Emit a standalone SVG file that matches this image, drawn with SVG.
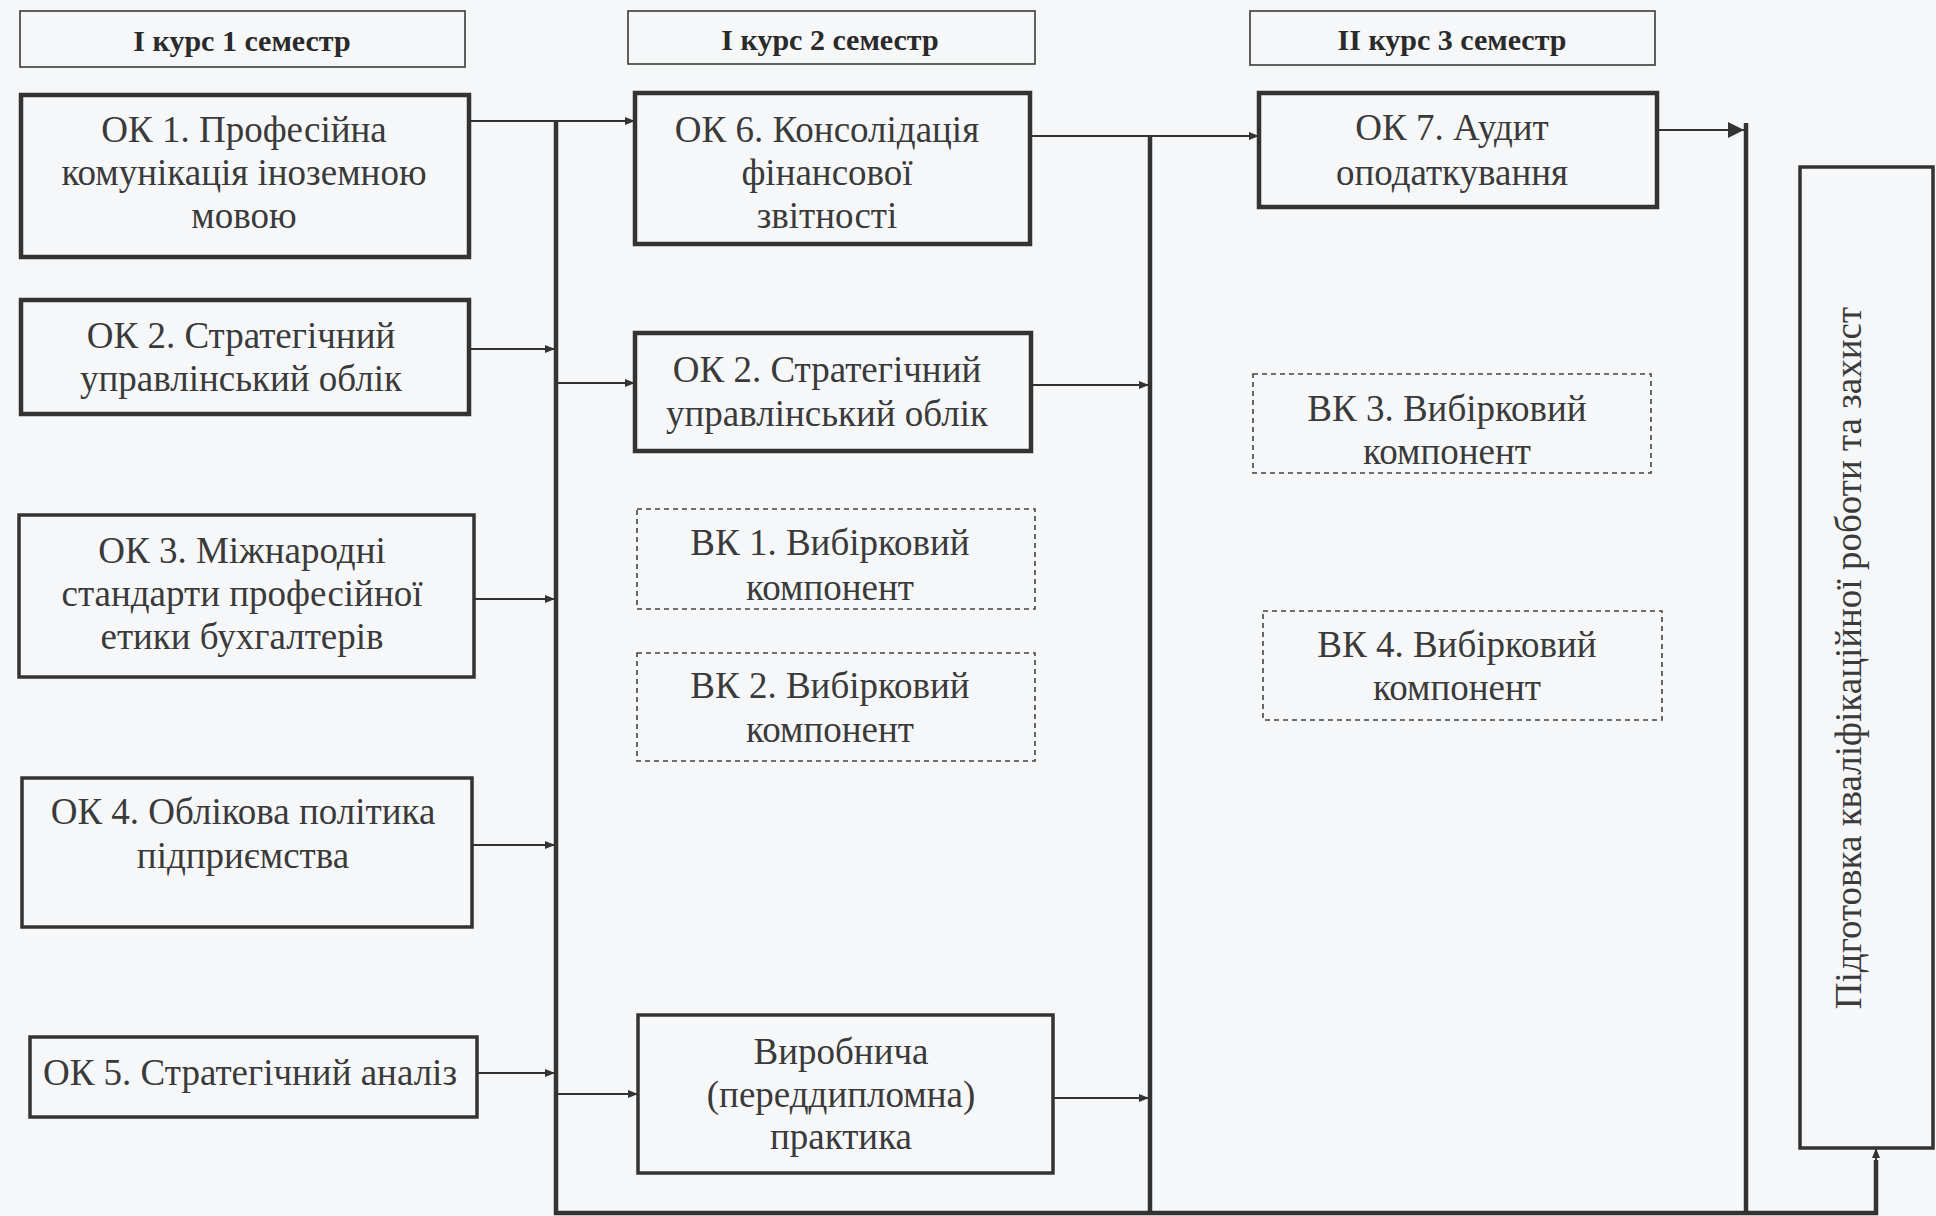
<svg xmlns="http://www.w3.org/2000/svg" width="1936" height="1216" viewBox="0 0 1936 1216">
<defs>
<style>
.bg{fill:#f6f7f9}
.hdr{fill:none;stroke:#3a3a3a;stroke-width:1.6}
.box{fill:none;stroke:#333;stroke-width:4.5}
.box2{fill:none;stroke:#333;stroke-width:3.5}
.dash{fill:none;stroke:#444;stroke-width:1.6;stroke-dasharray:5 4}
.ht{font-family:"Liberation Serif","Times New Roman",serif;font-weight:bold;font-size:30px;fill:#2a2a2a;text-anchor:middle}
.t{font-family:"Liberation Serif","Times New Roman",serif;font-size:37px;fill:#3a3a3a;text-anchor:middle}
.c{fill:none;stroke:#333;stroke-width:2}
.bus{fill:none;stroke:#333;stroke-width:4.5}
</style>
<marker id="ar" viewBox="0 0 10 10" refX="10" refY="5" markerWidth="10" markerHeight="10" markerUnits="userSpaceOnUse" orient="auto">
<path d="M0,1 L10,5 L0,9 Z" fill="#333"/>
</marker>
<marker id="ar2" viewBox="0 0 10 10" refX="10" refY="5" markerWidth="16" markerHeight="16" markerUnits="userSpaceOnUse" orient="auto">
<path d="M0,0 L10,5 L0,10 Z" fill="#333"/>
</marker>
</defs>
<rect class="bg" x="0" y="0" width="1936" height="1216"/>

<g id="connectors">
<path class="bus" d="M556,121 V1213 H1876 V1160"/>
<path class="bus" d="M1150,136 V1213"/>
<path class="bus" d="M1746,123 V1213"/>
<line class="c" x1="469" y1="121" x2="635" y2="121" marker-end="url(#ar)"/>
<line class="c" x1="469" y1="349" x2="555" y2="349" marker-end="url(#ar)"/>
<line class="c" x1="556" y1="383" x2="635" y2="383" marker-end="url(#ar)"/>
<line class="c" x1="474" y1="599" x2="555" y2="599" marker-end="url(#ar)"/>
<line class="c" x1="472" y1="845" x2="555" y2="845" marker-end="url(#ar)"/>
<line class="c" x1="477" y1="1073" x2="555" y2="1073" marker-end="url(#ar)"/>
<line class="c" x1="556" y1="1094" x2="638" y2="1094" marker-end="url(#ar)"/>
<line class="c" x1="1030" y1="136" x2="1259" y2="136" marker-end="url(#ar)"/>
<line class="c" x1="1031" y1="385" x2="1149" y2="385" marker-end="url(#ar)"/>
<line class="c" x1="1053" y1="1098" x2="1149" y2="1098" marker-end="url(#ar)"/>
<line class="c" x1="1657" y1="130" x2="1744" y2="130" marker-end="url(#ar2)"/>
<line class="c" x1="1876" y1="1170" x2="1876" y2="1148" marker-end="url(#ar)"/>
</g>

<g id="h1"><rect class="hdr" x="20" y="11" width="445" height="56"/><text class="ht" x="242" y="51">І курс 1 семестр</text></g>
<g id="h2"><rect class="hdr" x="628" y="11" width="407" height="53"/><text class="ht" x="830" y="50">І курс 2 семестр</text></g>
<g id="h3"><rect class="hdr" x="1250" y="11" width="405" height="54"/><text class="ht" x="1452" y="50">ІІ курс 3 семестр</text></g>

<g id="ok1"><rect class="box" x="21" y="95" width="448" height="162"/>
<text class="t" x="244" y="142">ОК 1. Професійна</text>
<text class="t" x="244" y="185">комунікація іноземною</text>
<text class="t" x="244" y="228">мовою</text></g>

<g id="ok2"><rect class="box" x="21" y="300" width="448" height="114"/>
<text class="t" x="241" y="348">ОК 2. Стратегічний</text>
<text class="t" x="241" y="391">управлінський облік</text></g>

<g id="ok3"><rect class="box2" x="19" y="515" width="455" height="162"/>
<text class="t" x="242" y="563">ОК 3. Міжнародні</text>
<text class="t" x="242" y="606">стандарти професійної</text>
<text class="t" x="242" y="649">етики бухгалтерів</text></g>

<g id="ok4"><rect class="box2" x="22" y="778" width="450" height="149"/>
<text class="t" x="243" y="824">ОК 4. Облікова політика</text>
<text class="t" x="243" y="868">підприємства</text></g>

<g id="ok5"><rect class="box2" x="30" y="1037" width="447" height="80"/>
<text class="t" x="250" y="1085">ОК 5. Стратегічний аналіз</text></g>

<g id="ok6"><rect class="box" x="635" y="93" width="395" height="151"/>
<text class="t" x="827" y="142">ОК 6. Консолідація</text>
<text class="t" x="827" y="185">фінансової</text>
<text class="t" x="827" y="228">звітності</text></g>

<g id="ok2b"><rect class="box" x="635" y="333" width="396" height="118"/>
<text class="t" x="827" y="382">ОК 2. Стратегічний</text>
<text class="t" x="827" y="426">управлінський облік</text></g>

<g id="vk1"><rect class="dash" x="637" y="509" width="398" height="100"/>
<text class="t" x="830" y="555">ВК 1. Вибірковий</text>
<text class="t" x="830" y="600">компонент</text></g>

<g id="vk2"><rect class="dash" x="637" y="653" width="398" height="108"/>
<text class="t" x="830" y="698">ВК 2. Вибірковий</text>
<text class="t" x="830" y="742">компонент</text></g>

<g id="practice"><rect class="box2" x="638" y="1015" width="415" height="158"/>
<text class="t" x="841" y="1064">Виробнича</text>
<text class="t" x="841" y="1107">(переддипломна)</text>
<text class="t" x="841" y="1149">практика</text></g>

<g id="ok7"><rect class="box" x="1259" y="93" width="398" height="114"/>
<text class="t" x="1452" y="140">ОК 7. Аудит</text>
<text class="t" x="1452" y="185">оподаткування</text></g>

<g id="vk3"><rect class="dash" x="1253" y="374" width="398" height="99"/>
<text class="t" x="1447" y="421">ВК 3. Вибірковий</text>
<text class="t" x="1447" y="464">компонент</text></g>

<g id="vk4"><rect class="dash" x="1263" y="611" width="399" height="109"/>
<text class="t" x="1457" y="657">ВК 4. Вибірковий</text>
<text class="t" x="1457" y="700">компонент</text></g>

<g id="final"><rect class="box2" x="1800" y="167" width="133" height="981"/>
<text class="t" transform="translate(1861,658) rotate(-90)" x="0" y="0">Підготовка кваліфікаційної роботи та захист</text></g>
</svg>
